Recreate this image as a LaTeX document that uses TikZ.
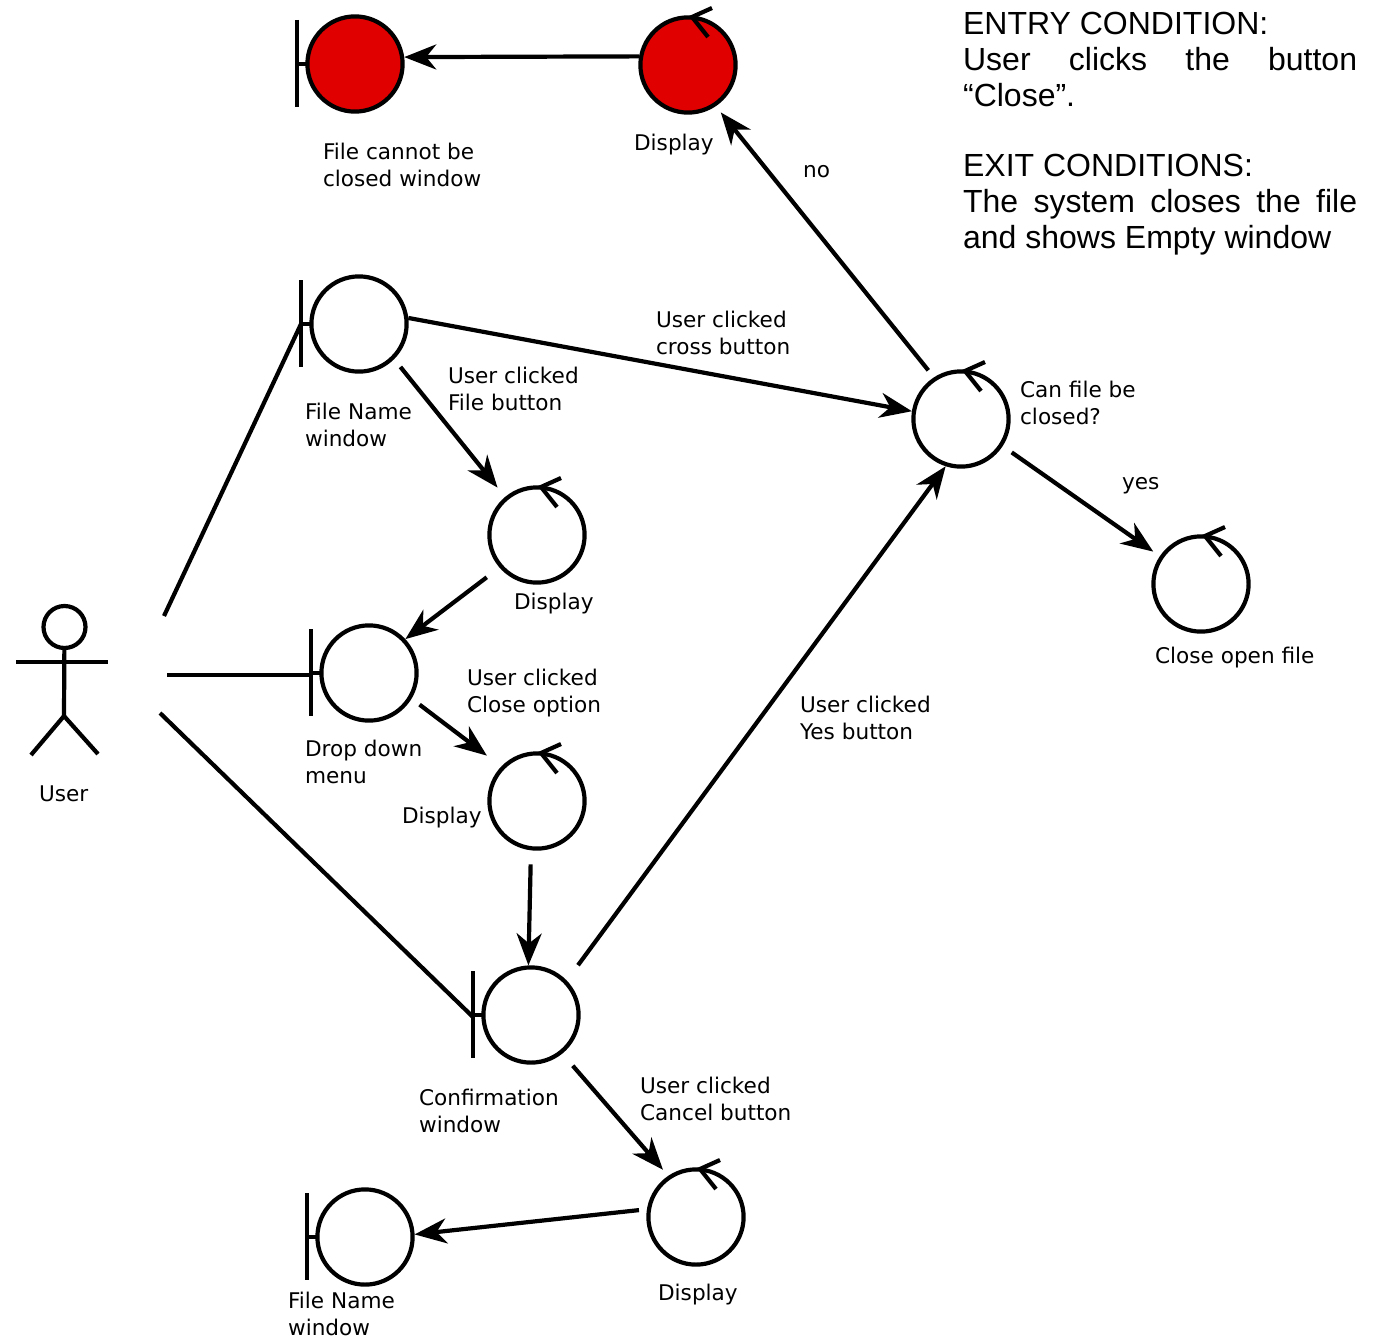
\documentclass[tikz,border=0pt]{standalone}
\usepackage{fontspec}
\setmainfont{DejaVu Sans}
\newfontfamily\headfont{Liberation Sans}
\usetikzlibrary{arrows.meta}
\definecolor{alertred}{HTML}{E00000}
\tikzset{
    icon/.style={inner sep=0pt, circle, draw, minimum size=47.6pt},
    redicon/.style={icon, fill=alertred},
    caption/.style={inner sep=0pt, anchor=west, align=left,
        font=\fontsize{10.8}{13.5}\selectfont},
    flow/.style={-{Stealth[length=16pt, width=12.5pt, inset=5pt]}},
}
\begin{document}
\begin{tikzpicture}[x=0.5pt, y=-0.5pt, line width=2.1pt]
    \useasboundingbox (0, 0) rectangle (1374, 1338);
    % boundaries and controls
    \node[redicon] (redwindow) at (355, 64) {};
    \node[redicon] (reddisplay) at (688, 65) {};
    \node[icon] (filename) at (359, 324) {};
    \node[icon] (dropdown) at (369, 673) {};
    \node[icon] (confirm) at (531, 1015) {};
    \node[icon] (lastname) at (365, 1237) {};
    \node[icon] (canclose) at (961, 419) {};
    \node[icon] (closefile) at (1201, 584) {};
    \node[icon] (displayA) at (537, 535) {};
    \node[icon] (displayB) at (537, 801) {};
    \node[icon] (displayC) at (696, 1217) {};
    \foreach \n in {redwindow, filename, dropdown, confirm, lastname} {
        \draw (\n.center) ++(-58, -44) -- ++(0, 87);
        \draw (\n.center) ++(-58, 0) -- ++(11, 0);
    }
    \foreach \n in {reddisplay, canclose, closefile, displayA, displayB, displayC} {
        \draw (\n.center) ++(24, -57) -- ++(-20, 9) -- ++(16, 20);
    }
    % actor
    \node[inner sep=0pt, circle, draw, minimum size=21pt] (head) at (64.5, 627) {};
    \coordinate (hip) at (64, 716);
    \coordinate (armL) at (16, 662);
    \coordinate (armR) at (108, 662);
    \coordinate (legL) at (31, 755);
    \coordinate (legR) at (98, 754);
    \draw (head) -- (hip);
    \draw (armL) -- (armR);
    \draw (legL) -- (hip) -- (legR);
    \coordinate (userA) at (164, 616);
    \coordinate (userB) at (167, 675);
    \coordinate (userC) at (160, 713);
    \coordinate (filenamebar) at ([xshift=-29pt]filename.center);
    \coordinate (dropdownbar) at ([xshift=-29pt, yshift=-1pt]dropdown.center);
    \coordinate (confirmbar) at ([xshift=-29pt, yshift=-1pt]confirm.center);
    \draw (userA) -- (filenamebar);
    \draw (userB) -- (dropdownbar);
    \draw (userC) -- (confirmbar);
    % flows
    \draw[flow] (reddisplay.170) -- (redwindow.8);
    \draw[flow, shorten <=4.5pt, shorten >=4pt] (canclose.123) -- (reddisplay.-56);
    \draw[flow] (filename.7) -- (canclose.171);
    \draw[flow, shorten <=5pt, shorten >=6pt] (filename.-45) -- (displayA.130);
    \draw[flow, shorten <=8pt] (displayA.221) -- (dropdown.43);
    \draw[flow, shorten <=5pt, shorten >=9pt] (dropdown.-31) -- (displayB.136);
    \draw[flow, shorten <=7pt] (displayB.-97) -- (confirm.93);
    \draw[flow, shorten <=9.5pt] (confirm.44) -- (canclose.-108);
    \draw[flow, shorten <=5.5pt, shorten >=4pt] (canclose.-33) -- (closefile.146);
    \draw[flow, shorten <=8pt, shorten >=4pt] (confirm.-51) -- (displayC.124);
    \draw[flow, shorten <=4pt] (displayC.171) -- (lastname.3);
    % captions
    \node[caption] (lblredwindow) at (321, 165) {File cannot be\\closed window};
    \node[caption] (lblreddisplay) at (632, 145) {Display};
    \node[caption] (lblno) at (801, 172) {no};
    \node[caption] (lblcross) at (654, 333) {User clicked\\cross button};
    \node[caption] (lblcanclose) at (1018, 403) {Can file be\\closed?};
    \node[caption] (lblfilename) at (303, 425) {File Name\\window};
    \node[caption] (lblfile) at (446, 389) {User clicked\\File button};
    \node[caption] (lbldisplayA) at (512, 604) {Display};
    \node[caption] (lblyes) at (1120, 486) {yes};
    \node[caption] (lblclosefile) at (1153, 658) {Close open file};
    \node[caption] (lbloption) at (465, 693) {User clicked\\Close option};
    \node[caption] (lblyesbtn) at (798, 718) {User clicked\\Yes button};
    \node[caption] (lbldropdown) at (303, 762) {Drop down\\menu};
    \node[caption] (lbldisplayB) at (400, 818) {Display};
    \node[caption] (lblconfirm) at (417, 1111) {Confirmation\\window};
    \node[caption] (lblcancel) at (638, 1099) {User clicked\\Cancel button};
    \node[caption] (lbllastname) at (286, 1314) {File Name\\window};
    \node[caption] (lbldisplayC) at (656, 1295) {Display};
    \node[caption] (lbluser) at (37, 794) {User};
    % conditions
    \node[inner sep=0pt, anchor=north west, text width=197pt, align=justify,
        font=\headfont\fontsize{16}{18}\selectfont] (conditions) at (961, 10.5)
        {ENTRY CONDITION:\\User clicks the button “Close”.\\[17pt]
        EXIT CONDITIONS:\\The system closes the file and shows Empty window};
\end{tikzpicture}
\end{document}
